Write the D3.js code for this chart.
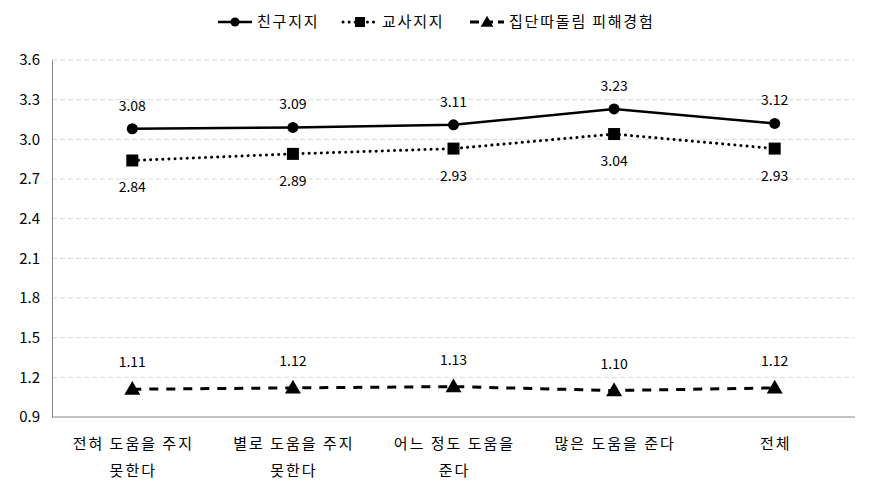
<!DOCTYPE html>
<html>
<head>
<meta charset="utf-8">
<script src="https://cdn.jsdelivr.net/npm/d3@7"></script>
<style>
  body { margin: 0; background: #fff; }
  text { font-family: "Noto Sans CJK KR", "Noto Sans", sans-serif; fill: #000; }
</style>
</head>
<body>
<script>
var categories = [["전혀 도움을 주지", "못한다"], ["별로 도움을 주지", "못한다"], ["어느 정도 도움을", "준다"], ["많은 도움을 준다"], ["전체"]];
var seriesNames = ["친구지지", "교사지지", "집단따돌림 피해경험"];
var friendValues = [3.08, 3.09, 3.11, 3.23, 3.12];
var teacherValues = [2.84, 2.89, 2.93, 3.04, 2.93];
var bullyValues = [1.11, 1.12, 1.13, 1.10, 1.12];
var yTicks = [0.9, 1.2, 1.5, 1.8, 2.1, 2.4, 2.7, 3.0, 3.3, 3.6];

var svgwidth = 871, svgheight = 494;
var margin = { top: 60, right: 16, bottom: 77, left: 52 };
var width = svgwidth - margin.left - margin.right;
var height = svgheight - margin.top - margin.bottom;

var svg = d3.select("body").append("svg")
    .attr("width", svgwidth)
    .attr("height", svgheight);
var g = svg.append("g")
    .attr("transform", "translate(" + margin.left + "," + margin.top + ")");

var x = d3.scaleBand().domain(d3.range(categories.length)).range([0, width]);
var y = d3.scaleLinear().domain([0.9, 3.6]).range([height, 0]);
function cx(i) { return x(i) + x.bandwidth() / 2; }

// gridlines
g.selectAll(".grid").data(yTicks.slice(1)).enter().append("line")
    .attr("x1", 0).attr("x2", width)
    .attr("y1", function(d) { return y(d); }).attr("y2", function(d) { return y(d); })
    .attr("stroke", "#d9d9d9").attr("stroke-width", 1).attr("stroke-dasharray", "5,3");

// axes
var yAxis = g.append("g").call(d3.axisLeft(y).tickValues(yTicks).tickSize(0).tickPadding(12).tickFormat(d3.format(".1f")));
yAxis.select(".domain").attr("stroke", "#868686");
yAxis.selectAll("text").attr("font-size", 15);

g.append("line").attr("x1", 0).attr("x2", width).attr("y1", height).attr("y2", height)
    .attr("stroke", "#868686").attr("stroke-width", 1);

var xl = g.selectAll(".xlab").data(categories).enter().append("text")
    .attr("text-anchor", "middle").attr("font-size", 15).attr("letter-spacing", 2)
    .attr("transform", function(d, i) { return "translate(" + (cx(i) + 1) + "," + (height + 32) + ")"; });
xl.selectAll("tspan").data(function(d) { return d; }).enter().append("tspan")
    .attr("x", 0).attr("dy", function(d, j) { return j === 0 ? 0 : 27; })
    .text(function(d) { return d; });

var line = d3.line().x(function(d, i) { return cx(i); }).y(function(d) { return y(d); });

var styles = [
  { values: friendValues, dash: null, cap: "butt", width: 2.5, marker: "circle", labelDy: [-18, -18, -18, -18, -18] },
  { values: teacherValues, dash: "0.1,6", cap: "round", width: 3, marker: "square", labelDy: [32, 32, 32, 32, 32] },
  { values: bullyValues, dash: "9,8", cap: "butt", width: 3, marker: "triangle", labelDy: [-22, -22, -22, -22, -22] }
];

function drawMarker(sel, type, px, py, s) {
  if (type === "circle") {
    sel.append("circle").attr("cx", px).attr("cy", py).attr("r", s || 5.5).attr("fill", "#000");
  } else if (type === "square") {
    var h = s || 6;
    sel.append("rect").attr("x", px - h).attr("y", py - h).attr("width", 2 * h).attr("height", 2 * h).attr("fill", "#000");
  } else {
    sel.append("path").attr("d", d3.symbol().type(d3.symbolTriangle).size(s || 110)())
        .attr("transform", "translate(" + px + "," + (py + 1) + ")").attr("fill", "#000");
  }
}

styles.forEach(function(st) {
  g.append("path").datum(st.values)
      .attr("d", line).attr("fill", "none").attr("stroke", "#000")
      .attr("stroke-width", st.width).attr("stroke-linecap", st.cap)
      .attr("stroke-dasharray", st.dash);
  st.values.forEach(function(v, i) {
    drawMarker(g, st.marker, cx(i), y(v));
  });
  g.selectAll(null).data(st.values).enter().append("text")
      .attr("x", function(d, i) { return cx(i); })
      .attr("y", function(d, i) { return y(d) + st.labelDy[i]; })
      .attr("text-anchor", "middle").attr("font-size", 14)
      .text(function(d) { return d.toFixed(2); });
});

// legend
var legendX = [218, 343, 470];
var leg = svg.append("g");
styles.forEach(function(st, i) {
  var lx = legendX[i], ly = 22;
  leg.append("line").attr("x1", lx).attr("x2", lx + 34).attr("y1", ly).attr("y2", ly)
      .attr("stroke", "#000").attr("stroke-width", st.width).attr("stroke-linecap", st.cap)
      .attr("stroke-dasharray", st.marker === "triangle" ? "9,5" : st.dash);
  drawMarker(leg, st.marker, lx + 17, ly, st.marker === "circle" ? 4.5 : (st.marker === "square" ? 5 : 70));
  leg.append("text").attr("x", lx + 39).attr("y", ly + 5).attr("font-size", 15)
      .attr("letter-spacing", 1.8).text(seriesNames[i]);
});
</script>
</body>
</html>
